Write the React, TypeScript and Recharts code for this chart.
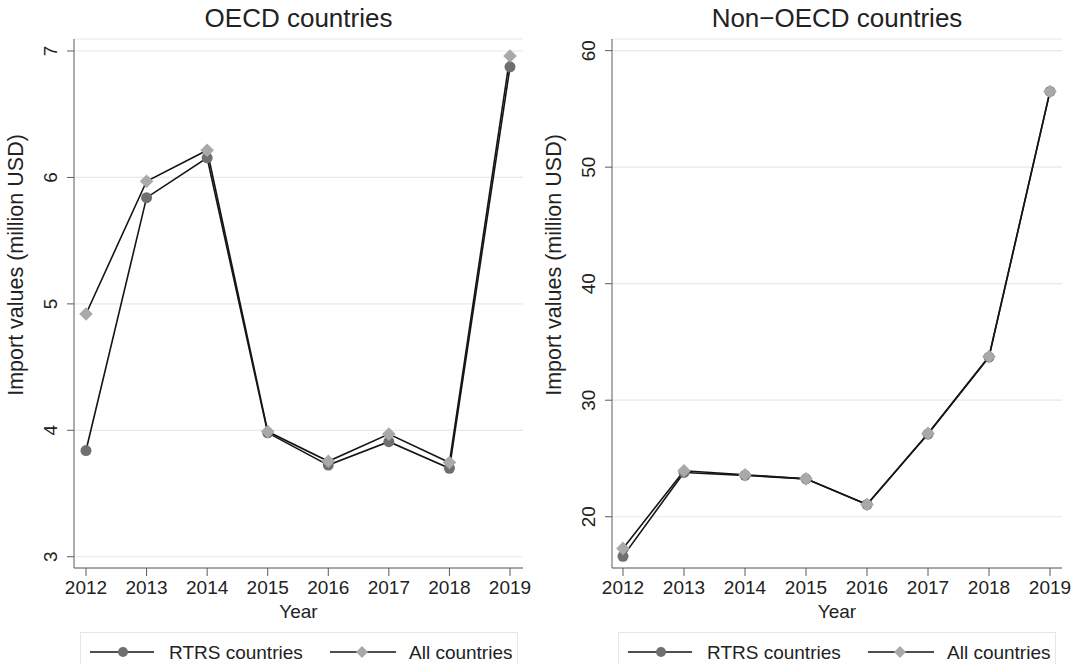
import { CartesianGrid, Line, LineChart, ReferenceLine, XAxis, YAxis } from "recharts";

const years = ["2012", "2013", "2014", "2015", "2016", "2017", "2018", "2019"];

const oecdRtrs = [3.84, 5.84, 6.155, 3.98, 3.725, 3.91, 3.7, 6.875];
const oecdAll = [4.92, 5.97, 6.215, 3.99, 3.755, 3.97, 3.745, 6.96];

const nonOecdRtrs = [16.6, 23.8, 23.55, 23.25, 21.05, 27.1, 33.7, 56.5];
const nonOecdAll = [17.28, 23.95, 23.6, 23.25, 21.05, 27.15, 33.75, 56.5];

const oecdTicks = [3, 4, 5, 6, 7];
const nonOecdTicks = [20, 30, 40, 50, 60];

const font = '"Liberation Sans", Arial, Helvetica, sans-serif';
const axisColor = "#5c5c5c";
const textColor = "#222";
const lineColor = "#151515";
const circleColor = "#6f6f6f";
const diamondColor = "#a9a9a9";

type Panel = {
  title: string;
  rtrs: number[];
  all: number[];
  ticks: number[];
  domain: [number, number];
  padding: { left: number; right: number };
  marginRight: number;
  left: number;
};

const panels: Panel[] = [
  {
    title: "OECD countries",
    rtrs: oecdRtrs,
    all: oecdAll,
    ticks: oecdTicks,
    domain: [2.911, 7.095],
    padding: { left: 12, right: 13 },
    marginRight: 17,
    left: 0,
  },
  {
    title: "Non\u2212OECD countries",
    rtrs: nonOecdRtrs,
    all: nonOecdAll,
    ticks: nonOecdTicks,
    domain: [15.6, 61.0],
    padding: { left: 11, right: 12 },
    marginRight: 16,
    left: 538,
  },
];

function CircleDot(props: any) {
  const { cx, cy, index } = props;
  if (cx == null || cy == null) return <g key={index} />;
  return <circle key={index} cx={cx} cy={cy} r={5.5} fill={circleColor} />;
}

function DiamondDot(props: any) {
  const { cx, cy, index } = props;
  if (cx == null || cy == null) return <g key={index} />;
  const s = 6.8;
  return (
    <polygon
      key={index}
      points={`${cx},${cy - s} ${cx + s},${cy} ${cx},${cy + s} ${cx - s},${cy}`}
      fill={diamondColor}
    />
  );
}

function renderXTick(props: any) {
  const { x, y, payload, index } = props;
  return (
    <text
      key={index}
      x={x}
      y={Number(y) + 16}
      textAnchor="middle"
      fontSize={19}
      fontFamily={font}
      fill={textColor}
    >
      {payload.value}
    </text>
  );
}

// y tick labels drawn rotated, next to the axis, at the scaled tick position
function rotatedTickLabel(value: number) {
  return (p: any) => {
    const vb = p.viewBox;
    const cx = vb.x - 23.5;
    const cy = vb.y;
    return (
      <g transform={`translate(${cx} ${cy}) rotate(-90)`}>
        <text
          x={0}
          y={0}
          textAnchor="middle"
          dominantBaseline="central"
          fontSize={19}
          fontFamily={font}
          fill={textColor}
        >
          {value}
        </text>
      </g>
    );
  };
}

function LegendBox({ left }: { left: number }) {
  return (
    <div
      style={{
        position: "absolute",
        left,
        top: 632,
        width: 436,
        height: 44,
        border: "1px solid #e6e6e6",
        background: "#fff",
      }}
    >
      <svg width={436} height={40} style={{ position: "absolute", left: 0, top: 0 }}>
        <line x1={9} x2={73} y1={19} y2={19} stroke={lineColor} strokeWidth={1.6} />
        <circle cx={42} cy={19} r={5} fill={circleColor} />
        <line x1={249} x2={315} y1={19} y2={19} stroke={lineColor} strokeWidth={1.6} />
        <polygon points="281,13 287,19 281,25 275,19" fill={diamondColor} />
        <text x={88} y={26} fontSize={19} fontFamily={font} fill={textColor}>
          RTRS countries
        </text>
        <text x={328} y={26} fontSize={19} fontFamily={font} fill={textColor}>
          All countries
        </text>
      </svg>
    </div>
  );
}

function PanelChart({ panel }: { panel: Panel }) {
  const data = years.map((year, i) => ({
    year,
    rtrs: panel.rtrs[i],
    all: panel.all[i],
  }));
  return (
    <div style={{ position: "absolute", left: panel.left, top: 0, width: 540, height: 664 }}>
      <div
        style={{
          position: "absolute",
          left: 74,
          width: 540 - 74 - panel.marginRight,
          top: 5,
          textAlign: "center",
          fontFamily: font,
          fontSize: 26,
          lineHeight: "26px",
          color: textColor,
        }}
      >
        {panel.title}
      </div>
      <LineChart
        width={540}
        height={625}
        data={data}
        margin={{ top: 39, right: panel.marginRight, left: 0, bottom: 0 }}
      >
        <CartesianGrid vertical={false} stroke="#e8e8e8" strokeWidth={1.2} />
        <XAxis
          dataKey="year"
          height={57}
          padding={panel.padding}
          tickSize={8}
          tickMargin={2}
          stroke={axisColor}
          tick={renderXTick}
          interval={0}
          label={{
            content: (p: any) => {
              const vb = p.viewBox;
              return (
                <text
                  x={vb.x + vb.width / 2}
                  y={vb.y + 50}
                  textAnchor="middle"
                  fontSize={19}
                  fontFamily={font}
                  fill={textColor}
                >
                  Year
                </text>
              );
            },
          }}
        />
        <YAxis
          width={74}
          domain={panel.domain}
          ticks={panel.ticks}
          type="number"
          allowDataOverflow
          tickSize={7}
          tickMargin={2}
          stroke={axisColor}
          tick={(p: any) => <g key={p.index} />}
          label={{
            content: () => (
              <g transform="translate(16 265) rotate(-90)">
                <text
                  x={0}
                  y={0}
                  textAnchor="middle"
                  dominantBaseline="central"
                  fontSize={21.5}
                  fontFamily={font}
                  fill={textColor}
                >
                  Import values (million USD)
                </text>
              </g>
            ),
          }}
        />
        {panel.ticks.map((t) => (
          <ReferenceLine
            key={t}
            y={t}
            stroke="none"
            label={{ content: rotatedTickLabel(t) }}
          />
        ))}
        <Line
          dataKey="rtrs"
          type="linear"
          stroke={lineColor}
          strokeWidth={1.6}
          dot={(p: any) => <CircleDot key={p.index} {...p} />}
          activeDot={false}
          isAnimationActive={false}
        />
        <Line
          dataKey="all"
          type="linear"
          stroke={lineColor}
          strokeWidth={1.6}
          dot={(p: any) => <DiamondDot key={p.index} {...p} />}
          activeDot={false}
          isAnimationActive={false}
        />
      </LineChart>
      <LegendBox left={80} />
    </div>
  );
}

export default function App() {
  return (
    <div
      style={{
        position: "absolute",
        left: 0,
        top: 0,
        width: 1081,
        height: 664,
        overflow: "hidden",
        background: "#fff",
      }}
    >
      {panels.map((panel) => (
        <PanelChart key={panel.title} panel={panel} />
      ))}
    </div>
  );
}
